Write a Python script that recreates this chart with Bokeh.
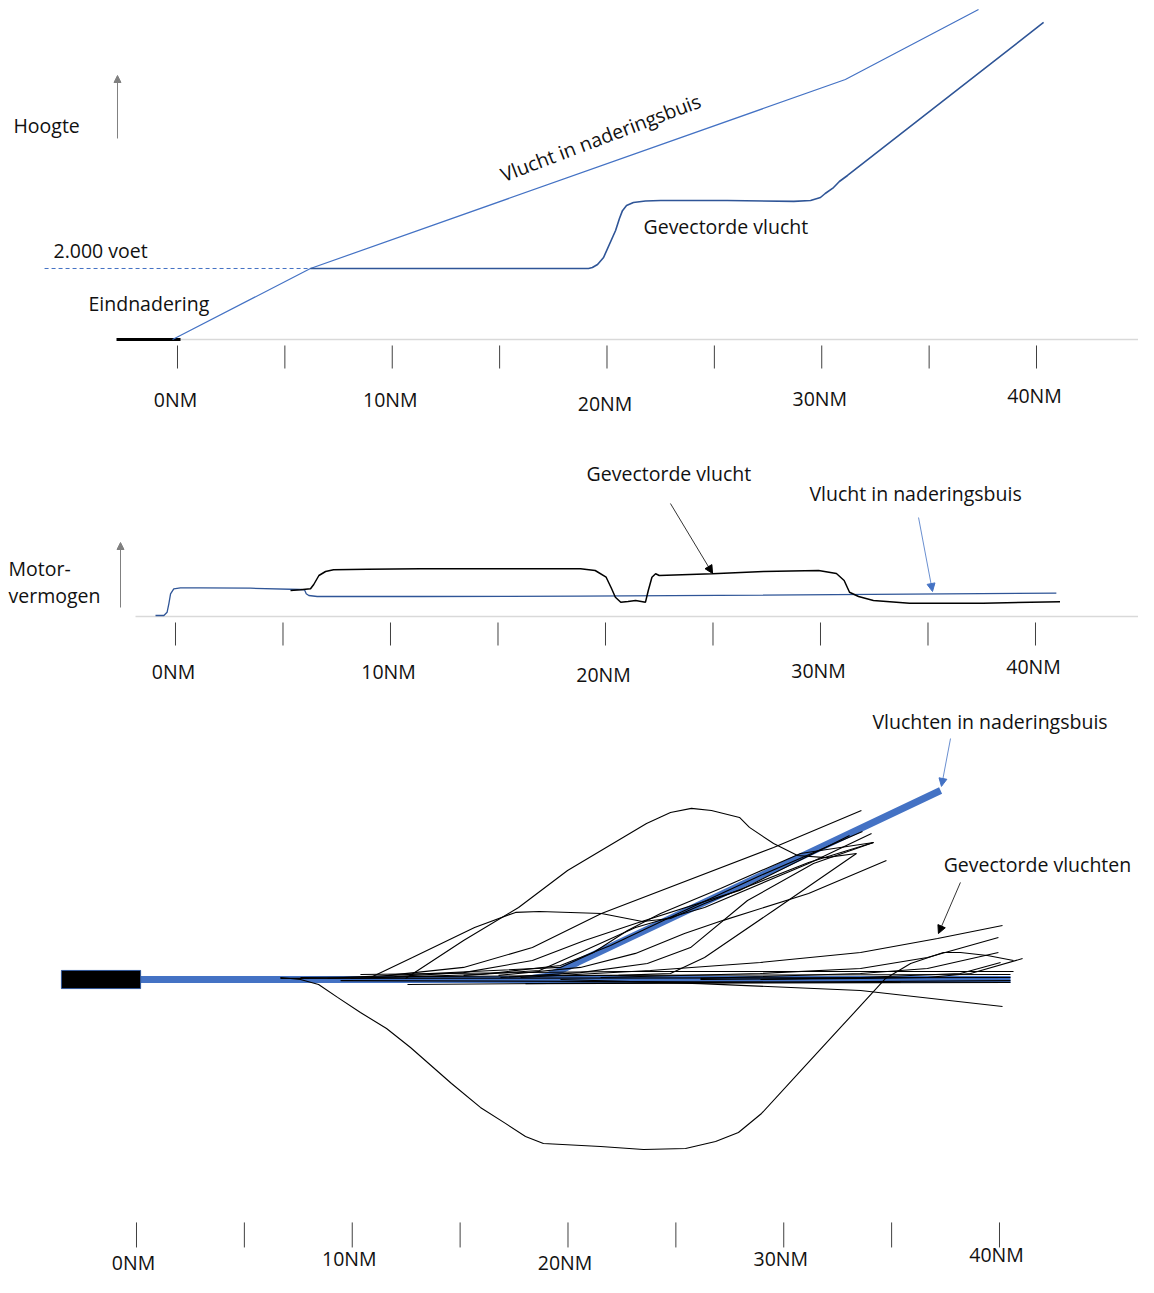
from bokeh.plotting import figure
from bokeh.layouts import column
from bokeh.models import Range1d, Arrow, NormalHead, ColumnDataSource
from bokeh.core.properties import value
from bokeh.embed import file_html
from bokeh.resources import INLINE

FONT = value("Open Sans")
FS = "19.5px"

# ---------------- shared scale data ----------------
tick_nm = [0, 5, 10, 15, 20, 25, 30, 35, 40]
label_nm = [0, 10, 20, 30, 40]
label_text = ["0NM", "10NM", "20NM", "30NM", "40NM"]

# ---------------- panel 1: altitude (feet) vs distance (NM) ----------------
alt_tube_nm = [-0.23, 6.19, 31.1, 37.3]
alt_tube_ft = [0, 2000, 7324, 9296]

alt_vec_nm = [6.19, 19.14, 19.32, 19.56, 19.84, 20.4, 20.58, 20.72, 20.91, 21.23, 21.79, 22.5, 25.6,
              28.7, 29.48, 29.94, 30.16, 30.55, 30.82, 31.2, 40.33]
alt_vec_ft = [2000, 2000, 2028, 2113, 2310, 3070, 3408, 3630, 3775, 3859, 3901, 3915, 3915,
              3890, 3915, 4000, 4113, 4280, 4451, 4620, 8930]

final_alt_ft = 2000
final_dash_nm = [-6.19, 6.19]
runway_top_nm = [-2.84, 0.14]

# ---------------- panel 2: engine power vs distance ----------------
pow_tube_nm = [-0.93, -0.54, -0.39, -0.31, -0.23, -0.08, 0.23, 1.16, 3.49, 5.81, 6.0, 6.08, 6.2, 6.59, 11.4, 18.84, 40.97]
pow_tube_val = [1, 1, 4.3, 12.7, 22.7, 27.7, 28.7, 28.7, 28.3, 27, 26.7, 22.7, 21, 20, 20, 20.3, 23.3]

pow_vec_nm = [5.35, 5.81, 6.28, 6.43, 6.67, 6.98, 7.35, 8.92, 11.4, 18.84, 19.52, 20.03, 20.28, 20.46,
              20.71, 21.05, 21.4, 21.86, 21.99, 22.16, 22.33, 22.5, 24.97, 27.35, 29.91, 30.74,
              31.1, 31.35, 31.77, 32.46, 34.14, 37.56, 41.14]
pow_vec_val = [26, 26.7, 27.7, 32, 41, 45, 46.7, 47.3, 47.7, 47.7, 46, 39.3, 28, 19.3,
               14.3, 15, 16, 14.3, 26, 39.3, 42.7, 41, 42.7, 45, 46, 43,
               36, 24.3, 20, 16, 13.3, 13.3, 14.7]

# ---------------- panel 3: ground tracks, along-track NM vs lateral NM ----------------
runway_nm = [-3.48, 0.19]
runway_half_width = 0.42
centerline_nm = [0.19, 40.51]
tube_branch_nm = [18.0, 18.96, 19.65, 20.44, 37.27]
tube_branch_lat = [0.0, 0.14, 0.42, 0.79, 8.76]

tracks_nm = [
    # wide southern detour
    [6.67, 7.60, 8.44, 9.32, 10.38, 11.59, 12.70, 14.60, 15.94, 17.10, 18.03, 18.86, 21.51, 23.50, 25.45,
     26.84, 27.90, 28.97, 30.92, 32.72, 34.72, 35.88, 37.40, 38.19, 39.44, 40.65],
    # wide northern detour
    [12.47, 15.16, 17.71, 19.98, 23.64, 24.75, 25.72, 26.65, 27.95, 28.41, 29.53, 30.64, 31.94, 33.37],
    # low northern hump
    [10.85, 12.79, 15.67, 17.57, 18.68, 21.55, 23.45, 24.75, 26.33, 31.15, 34.16],
    [11.68, 15.16, 18.35, 21.55, 29.53, 33.60],
    [11.96, 15.16, 18.35, 20.77, 23.13, 27.95, 33.05],
    [15.16, 18.68, 20.77, 23.13, 26.33, 31.15, 34.07],
    [16.78, 20.58, 23.13, 25.40, 27.16, 31.15, 34.76],
    [22.34, 24.75, 26.33, 29.53, 33.37],
    [16.87, 20.58, 23.68, 25.68, 28.32, 31.38, 34.16],
    [8.85, 16.55, 19.65, 21.18, 22.76, 24.29, 27.07, 30.78, 34.16],
    [9.92, 15.94, 19.65, 21.97, 25.21, 28.92, 33.65],
    # eastern fan
    [17.80, 23.82, 28.92, 33.56, 37.13, 40.14],
    [21.51, 28.92, 33.56, 36.66, 39.95],
    [26.14, 33.56, 36.66, 39.95],
    [26.14, 33.56, 36.66, 38.66, 41.07],
    [28.92, 33.56, 38.19, 40.05],
    [10.38, 22.43, 40.65],
    [19.65, 26.14, 33.56, 40.14],
    # near-centreline tracks
    [6.67, 40.51],
    [12.56, 40.51],
    [18.03, 40.51],
    [9.46, 35.41],
    [7.60, 21.51, 40.51],
]
tracks_lat = [
    [0.09, 0.00, -0.23, -0.83, -1.53, -2.27, -3.15, -4.82, -5.93, -6.67, -7.28, -7.60, -7.74, -7.88, -7.83,
     -7.51, -7.09, -6.21, -4.08, -2.13, 0.05, 0.74, 1.25, 1.25, 1.11, 0.88],
    [0.05, 1.81, 3.34, 5.05, 7.23, 7.74, 7.93, 7.83, 7.51, 7.05, 6.30, 5.75, 5.65, 5.84],
    [0.09, 1.02, 2.41, 3.11, 3.15, 3.06, 2.69, 2.83, 3.52, 5.42, 6.35],
    [0.19, 0.56, 1.48, 3.06, 6.12, 7.83],
    [0.14, 0.32, 0.88, 1.81, 2.60, 4.13, 6.67],
    [0.19, 0.42, 1.34, 2.41, 3.34, 5.38, 6.77],
    [0.19, 0.56, 1.21, 2.13, 2.73, 3.99, 5.52],
    [0.19, 0.28, 1.02, 3.20, 5.84],
    [0.09, 0.32, 0.74, 1.48, 3.66, 5.38, 6.35],
    [0.05, 0.42, 0.56, 1.25, 2.27, 3.06, 4.22, 5.84, 6.35],
    [0.05, 0.23, 0.65, 1.58, 3.11, 4.82, 6.86],
    [0.09, 0.42, 0.79, 1.25, 1.90, 2.50],
    [0.09, 0.28, 0.51, 1.02, 1.95],
    [0.05, 0.28, 0.51, 1.25],
    [0.0, 0.05, 0.09, 0.28, 0.97],
    [0.0, 0.09, 0.28, 0.79],
    [0.23, 0.37, 0.37],
    [0.0, -0.19, -0.51, -1.25],
    [0.05, 0.09],
    [-0.23, -0.05],
    [-0.19, -0.14],
    [-0.05, -0.14],
    [0.09, 0.19, 0.23],
]

# ---------------- styling ----------------
TUBE_BLUE = "#4472c4"
DARK_BLUE = "#2f5597"
GRID_GREY = "#d9d9d9"
ARROW_GREY = "#808080"
W = 1138


def make_fig(h, xr, yr):
    p = figure(width=W, height=h, x_range=Range1d(*xr), y_range=Range1d(*yr),
               toolbar_location=None, output_backend="svg", min_border=0,
               x_axis_type=None, y_axis_type=None)
    p.outline_line_color = None
    p.background_fill_color = "white"
    p.border_fill_color = "white"
    return p


def add_scale(p, tick_y0, tick_y1, label_y, dys, xoff):
    p.segment(x0=tick_nm, y0=[tick_y0] * len(tick_nm), x1=tick_nm, y1=[tick_y1] * len(tick_nm),
              line_color="#404040", line_width=1)
    src = ColumnDataSource(dict(x=label_nm, y=[label_y] * len(label_nm), t=label_text, dy=dys))
    p.text(x="x", y="y", text="t", source=src, y_offset="dy", x_offset=xoff,
           text_font=FONT, text_font_size=FS, text_align="center", text_baseline="middle",
           text_color="#111111")


def txt(p, x, y, s, align="left", angle=0.0):
    p.text(x=[x], y=[y], text=[s], angle=angle, text_font=FONT, text_font_size=FS,
           text_align=align, text_baseline="middle", text_color="#111111")


# ---------------- panel 1 ----------------
p1 = make_fig(420, (-8.2421, 44.7497), (-2281.7, 9549.3))
p1.line([0.05, 45.5], [0, 0], line_color=GRID_GREY, line_width=1.5)
p1.line(runway_top_nm, [0, 0], line_color="black", line_width=3)
p1.line(final_dash_nm, [final_alt_ft, final_alt_ft], line_color=TUBE_BLUE, line_width=1, line_dash="4 3")
p1.line(alt_tube_nm, alt_tube_ft, line_color=TUBE_BLUE, line_width=1.2)
p1.line(alt_vec_nm, alt_vec_ft, line_color=DARK_BLUE, line_width=1.6)
p1.add_layout(Arrow(end=NormalHead(size=7, fill_color=ARROW_GREY, line_color=ARROW_GREY),
                    x_start=-2.794, y_start=5662, x_end=-2.794, y_end=7437,
                    line_color=ARROW_GREY, line_width=1))
txt(p1, -7.637, 6028, "Hoogte")
txt(p1, -5.774, 2507, "2.000 voet")
txt(p1, -4.144, 1014, "Eindnadering")
txt(p1, 19.697, 5690, "Vlucht in naderingsbuis", align="center", angle=0.363)
txt(p1, 21.70, 3183, "Gevectorde vlucht")
add_scale(p1, -169, -817, -1690, [0, 0, 4, -1, -4], -2)

# ---------------- panel 2 ----------------
p2 = make_fig(270, (-8.1395, 44.7907), (-74, 196))
p2.line([-1.86, 45.5], [0, 0], line_color=GRID_GREY, line_width=1.5)
p2.line(pow_tube_nm, pow_tube_val, line_color=DARK_BLUE, line_width=1.3)
p2.line(pow_vec_nm, pow_vec_val, line_color="black", line_width=1.5)
p2.add_layout(Arrow(end=NormalHead(size=7, fill_color=ARROW_GREY, line_color=ARROW_GREY),
                    x_start=-2.558, y_start=9, x_end=-2.558, y_end=74,
                    line_color=ARROW_GREY, line_width=1))
p2.add_layout(Arrow(end=NormalHead(size=8, fill_color="black", line_color="black"),
                    x_start=23.02, y_start=113, x_end=24.98, y_end=43,
                    line_color="black", line_width=0.8))
p2.add_layout(Arrow(end=NormalHead(size=8, fill_color=TUBE_BLUE, line_color=TUBE_BLUE),
                    x_start=34.56, y_start=99, x_end=35.21, y_end=25,
                    line_color=TUBE_BLUE, line_width=0.8))
txt(p2, -7.767, 48, "Motor-")
txt(p2, -7.767, 21, "vermogen")
txt(p2, 22.95, 143, "Gevectorde vlucht", align="center")
txt(p2, 34.42, 123, "Vlucht in naderingsbuis", align="center")
add_scale(p2, -6, -29, -55, [0, 0, 3, -1, -5], -2)

# ---------------- panel 3 ----------------
p3 = make_fig(587, (-6.3036, 46.443), (-13.812, 13.395))
p3.line(centerline_nm, [0, 0], line_color=TUBE_BLUE, line_width=7)
p3.line(tube_branch_nm, tube_branch_lat, line_color=TUBE_BLUE, line_width=7)
p3.quad(left=[runway_nm[0]], right=[runway_nm[1]], bottom=[-runway_half_width], top=[runway_half_width],
        fill_color="black", line_color=DARK_BLUE, line_width=1)
p3.multi_line(tracks_nm, tracks_lat, line_color="black", line_width=1.1)
p3.add_layout(Arrow(end=NormalHead(size=8, fill_color=TUBE_BLUE, line_color=TUBE_BLUE),
                    x_start=37.73, y_start=11.17, x_end=37.31, y_end=8.95,
                    line_color=TUBE_BLUE, line_width=0.8))
p3.add_layout(Arrow(end=NormalHead(size=8, fill_color="black", line_color="black"),
                    x_start=38.19, y_start=4.50, x_end=37.17, y_end=2.13,
                    line_color="black", line_width=0.8))
txt(p3, 39.56, 11.96, "Vluchten in naderingsbuis", align="center")
txt(p3, 41.76, 5.33, "Gevectorde vluchten", align="center")
add_scale(p3, -11.26, -12.42, -13.02, [2, -2, 2, -2, -6], -3)

layout = column(p1, p2, p3, spacing=0)
open("out.html", "w").write(file_html(layout, INLINE))
